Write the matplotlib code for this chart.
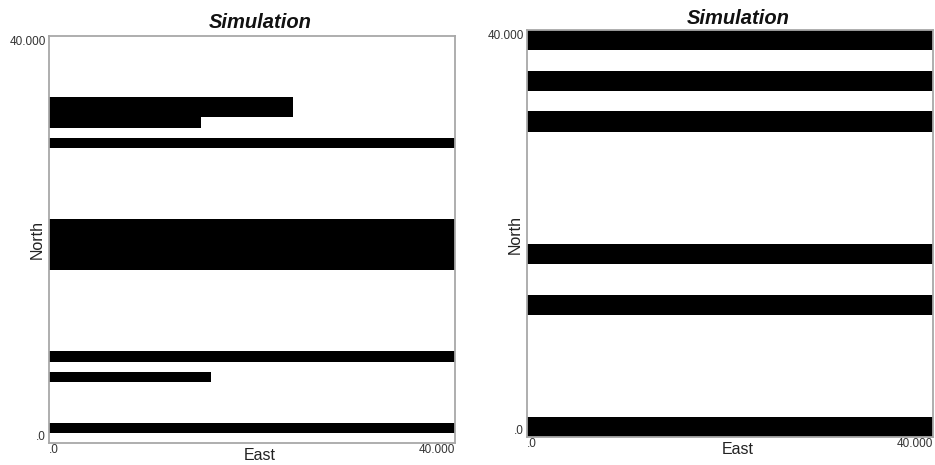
import matplotlib
matplotlib.use("Agg")
import matplotlib.pyplot as plt

plt.rcParams['font.family'] = ['Liberation Sans', 'DejaVu Sans']

# Left simulation: horizontal black cells (north start, thickness, east extent)
left_north_start = [32000, 31000, 29000, 17000, 8000, 6000, 1000]
left_thickness = [2000, 1000, 1000, 5000, 1000, 1000, 1000]
left_east_extent = [24000, 15000, 40000, 40000, 40000, 16000, 40000]

# Right simulation
right_north_start = [38000, 34000, 30000, 17000, 12000, 0]
right_thickness = [2000, 2000, 2000, 2000, 2000, 2000]
right_east_extent = [40000, 40000, 40000, 40000, 40000, 40000]

tick_vals = [0, 40000]
tick_labels = ['.0', '40.000']
title = 'Simulation'
xlabel = 'East'
ylabel = 'North'

W, H = 935, 465
fig = plt.figure(figsize=(W / 100, H / 100), dpi=100)
fig.patch.set_facecolor('white')

panels = [
    dict(rect=(49, 36, 455, 443), starts=left_north_start, thick=left_thickness,
         ext=left_east_extent, title_xy=(260, 23), xlab_xy=(260, 455), ylab_xy=(37, 239)),
    dict(rect=(527, 30, 933, 437), starts=right_north_start, thick=right_thickness,
         ext=right_east_extent, title_xy=(738, 18), xlab_xy=(738, 449), ylab_xy=(515, 234)),
]

spine_col = '#a8a8a8'
text_col = '#222222'

for p in panels:
    x0, y0, x1, y1 = p['rect']
    ax = fig.add_axes([x0 / W, 1 - y1 / H, (x1 - x0) / W, (y1 - y0) / H])
    ax.barh(p['starts'], p['ext'], height=p['thick'], left=0, align='edge',
            color='black', edgecolor='none', linewidth=0)
    ax.set_xlim(0, 40000)
    ax.set_ylim(0, 40000)
    for s in ax.spines.values():
        s.set_color(spine_col)
        s.set_linewidth(1.3)
    ax.set_xticks(tick_vals, tick_labels)
    ax.set_yticks(tick_vals, tick_labels)
    ax.tick_params(length=0, labelsize=8.5, labelcolor='#333333', pad=2)
    xl = ax.get_xticklabels()
    xl[0].set_ha('left')
    xl[1].set_ha('right')
    yl = ax.get_yticklabels()
    yl[0].set_va('bottom')
    yl[1].set_va('top')
    ax.tick_params(axis='x', pad=1)

    tx, ty = p['title_xy']
    fig.text(tx / W, 1 - ty / H, title, ha='center', va='center',
             fontsize=14.5, fontweight='bold', fontstyle='italic', color='#111111')
    lx, ly = p['xlab_xy']
    fig.text(lx / W, 1 - ly / H, xlabel, ha='center', va='center',
             fontsize=11.5, color=text_col)
    vx, vy = p['ylab_xy']
    fig.text(vx / W, 1 - vy / H, ylabel, ha='center', va='center',
             fontsize=11.5, color=text_col, rotation=90)

fig.savefig('out.png', dpi=100, facecolor='white')
